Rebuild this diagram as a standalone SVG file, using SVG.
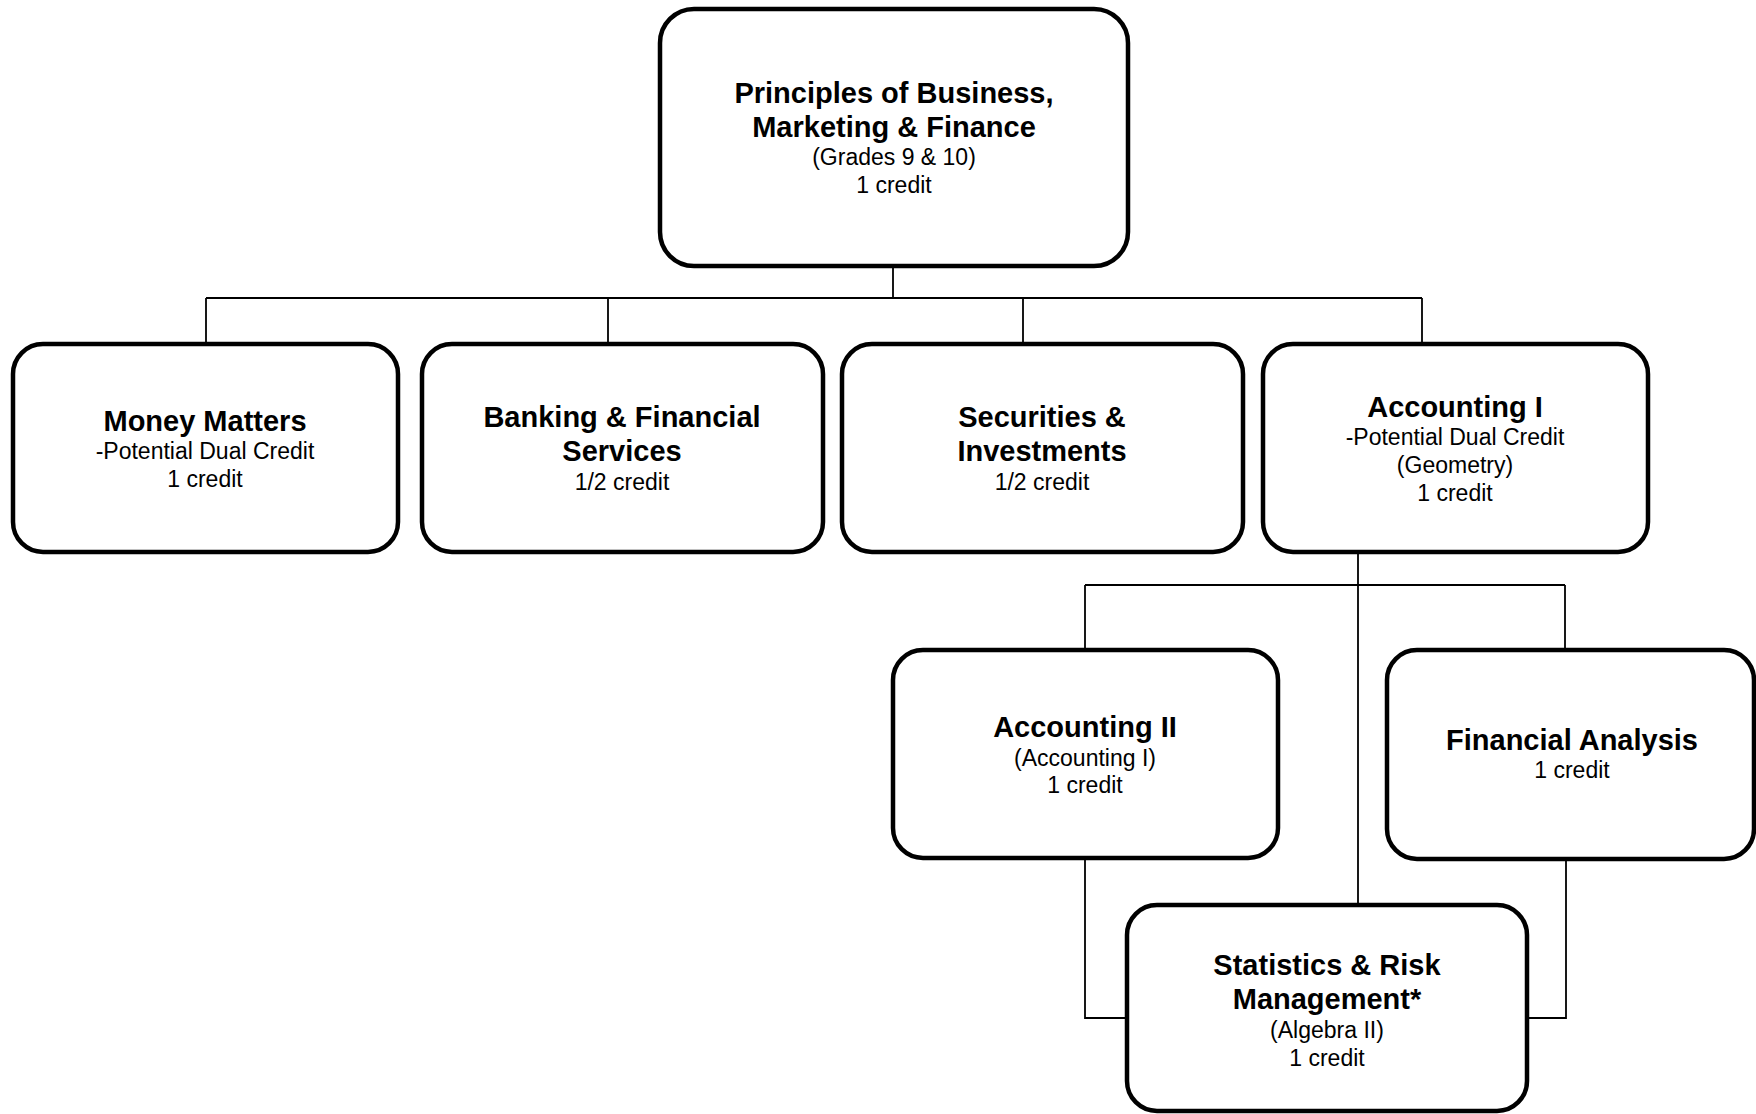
<svg xmlns="http://www.w3.org/2000/svg" width="1756" height="1114" viewBox="0 0 1756 1114">
<style>
.box{fill:#fff;stroke:#000;stroke-width:4.5}
.ln{fill:none;stroke:#000;stroke-width:1.8}
text{font-family:"Liberation Sans",Arial,sans-serif;text-anchor:middle;fill:#000}
.b{font-weight:bold;font-size:29px}
.r{font-size:23px}
</style>
<rect width="1756" height="1114" fill="#fff"/>
<g id="connectors">
<path class="ln" d="M893 267V298M206 298H1422M206 298V344M608 298V344M1023 298V344M1422 298V344"/>
<path class="ln" d="M1358 552V905M1085 585H1565M1085 585V650M1565 585V650"/>
<path class="ln" d="M1085 858V1018H1127M1566 860V1018H1527"/>
</g>
<g id="principles">
<rect class="box" x="660" y="9" width="468" height="257" rx="34"/>
<text class="b" x="894" y="103">Principles of Business,</text>
<text class="b" x="894" y="137">Marketing &amp; Finance</text>
<text class="r" x="894" y="165">(Grades 9 &amp; 10)</text>
<text class="r" x="894" y="193">1 credit</text>
</g>
<g id="money-matters">
<rect class="box" x="13" y="344" width="385" height="208" rx="30"/>
<text class="b" x="205" y="431">Money Matters</text>
<text class="r" x="205" y="459">-Potential Dual Credit</text>
<text class="r" x="205" y="487">1 credit</text>
</g>
<g id="banking">
<rect class="box" x="422" y="344" width="401" height="208" rx="30"/>
<text class="b" x="622" y="427">Banking &amp; Financial</text>
<text class="b" x="622" y="461">Services</text>
<text class="r" x="622" y="490">1/2 credit</text>
</g>
<g id="securities">
<rect class="box" x="842" y="344" width="401" height="208" rx="30"/>
<text class="b" x="1042" y="427">Securities &amp;</text>
<text class="b" x="1042" y="461">Investments</text>
<text class="r" x="1042" y="490">1/2 credit</text>
</g>
<g id="accounting-1">
<rect class="box" x="1263" y="344" width="385" height="208" rx="30"/>
<text class="b" x="1455" y="417">Accounting I</text>
<text class="r" x="1455" y="445">-Potential Dual Credit</text>
<text class="r" x="1455" y="473">(Geometry)</text>
<text class="r" x="1455" y="501">1 credit</text>
</g>
<g id="accounting-2">
<rect class="box" x="893" y="650" width="385" height="208" rx="30"/>
<text class="b" x="1085" y="737">Accounting II</text>
<text class="r" x="1085" y="766">(Accounting I)</text>
<text class="r" x="1085" y="793">1 credit</text>
</g>
<g id="financial-analysis">
<rect class="box" x="1387" y="650" width="367" height="209" rx="30"/>
<text class="b" x="1572" y="750">Financial Analysis</text>
<text class="r" x="1572" y="778">1 credit</text>
</g>
<g id="statistics">
<rect class="box" x="1127" y="905" width="400" height="206" rx="30"/>
<text class="b" x="1327" y="975">Statistics &amp; Risk</text>
<text class="b" x="1327" y="1009">Management*</text>
<text class="r" x="1327" y="1038">(Algebra II)</text>
<text class="r" x="1327" y="1066">1 credit</text>
</g>
</svg>
